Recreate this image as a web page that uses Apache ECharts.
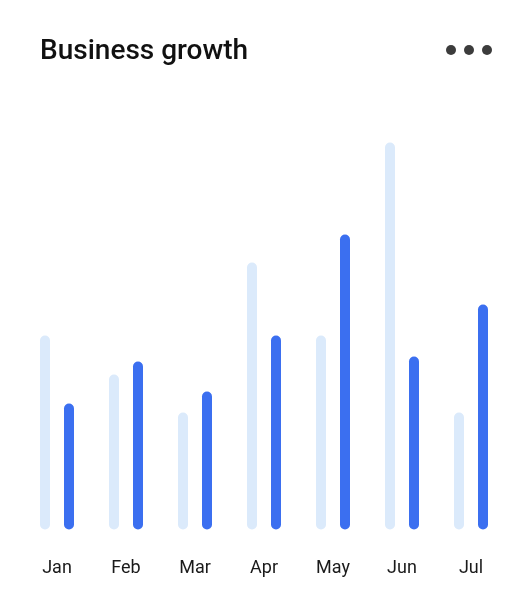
<!DOCTYPE html>
<html>
<head>
<meta charset="utf-8">
<script src="https://cdn.jsdelivr.net/npm/echarts@6/dist/echarts.min.js"></script>
<style>
  html, body { margin: 0; padding: 0; background: #fff; }
  #chart { width: 532px; height: 604px; }
</style>
</head>
<body>
<div id="chart"></div>
<script>
const months = ['Jan', 'Feb', 'Mar', 'Apr', 'May', 'Jun', 'Jul']
const previous = [194, 155, 117, 267, 194, 387, 117]
const current = [126, 168, 138, 194, 295, 173, 225]

const chart = echarts.init(document.getElementById('chart'), null, { renderer: 'canvas' })

chart.setOption({
  animation: false,
  title: {
    text: 'Business growth',
    left: 40,
    top: 38,
    padding: 0,
    textStyle: { fontFamily: 'Roboto', fontSize: 28, fontWeight: 500, color: '#111' }
  },
  graphic: [
    { type: 'circle', shape: { cx: 451, cy: 50, r: 5 }, style: { fill: '#3c3c3c' } },
    { type: 'circle', shape: { cx: 469, cy: 50, r: 5 }, style: { fill: '#3c3c3c' } },
    { type: 'circle', shape: { cx: 487, cy: 50, r: 5 }, style: { fill: '#3c3c3c' } }
  ],
  grid: { left: 22.5, right: 26.5, top: 129.5, bottom: 74.5, containLabel: false },
  xAxis: {
    type: 'category',
    data: months,
    axisLine: { show: false },
    axisTick: { show: false },
    axisLabel: { margin: 30, fontFamily: 'Roboto', fontSize: 18, color: '#1a1a1a' }
  },
  yAxis: {
    type: 'value',
    min: 0,
    max: 400,
    show: false,
    splitLine: { show: false }
  },
  series: [
    {
      type: 'bar',
      data: previous,
      barWidth: 10,
      barGap: '140%',
      itemStyle: { color: '#dbeafb', borderRadius: 5 }
    },
    {
      type: 'bar',
      data: current,
      barWidth: 10,
      itemStyle: { color: '#3b6ff0', borderRadius: 5 }
    }
  ]
})
</script>
</body>
</html>
